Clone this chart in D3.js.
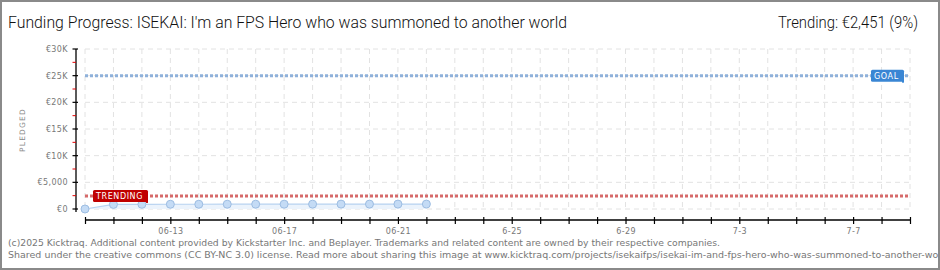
<!DOCTYPE html>
<html>
<head>
<meta charset="utf-8">
<script src="https://cdn.jsdelivr.net/npm/d3@7"></script>
<style>
  body { margin: 0; background: #fff; }
  svg { display: block; }
</style>
</head>
<body>
<svg id="chart" width="940" height="270"></svg>
<script>
// data
const dayStrings = ["2025-06-10","2025-06-11","2025-06-12","2025-06-13","2025-06-14","2025-06-15","2025-06-16",
  "2025-06-17","2025-06-18","2025-06-19","2025-06-20","2025-06-21","2025-06-22"];
const pledged = [0, 860, 880, 890, 895, 900, 905, 905, 910, 915, 915, 920, 925];
const goal = 25000;
const trending = 2451;
const yTicks = [0, 5000, 10000, 15000, 20000, 25000, 30000];
const yTickLabels = ["€0", "€5,000", "€10K", "€15K", "€20K", "€25K", "€30K"];
const xLabelDays = ["2025-06-13", "2025-06-17", "2025-06-21", "2025-06-25", "2025-06-29", "2025-07-03", "2025-07-07"];
const xLabels = ["06-13", "06-17", "06-21", "6-25", "6-29", "7-3", "7-7"];

const parse = d3.timeParse("%Y-%m-%d");
const days = dayStrings.map(parse);
const start = parse("2025-06-10"), end = parse("2025-07-09");

const svg = d3.select("#chart");
const W = 940, H = 270;

// frame
svg.append("rect").attr("x", 1).attr("y", 1).attr("width", W - 2).attr("height", H - 2)
  .attr("fill", "#fff").attr("stroke", "#8a8a8a").attr("stroke-width", 2);

const x = d3.scaleTime().domain([start, end]).range([85, 910]);
const y = d3.scaleLinear().domain([0, 30000]).range([209, 49]);
const allDays = d3.timeDay.range(start, d3.timeDay.offset(end, 1));

// grid
const grid = svg.append("g").attr("stroke", "#e2e2e2").attr("stroke-dasharray", "5,4");
grid.selectAll("line.v").data(allDays).enter().append("line")
  .attr("x1", d => x(d)).attr("x2", d => x(d)).attr("y1", y(30000)).attr("y2", y(0));
grid.selectAll("line.h").data(yTicks).enter().append("line")
  .attr("x1", x(start)).attr("x2", x(end)).attr("y1", d => y(d)).attr("y2", d => y(d));

// goal and trending lines
svg.append("line").attr("x1", x(start)).attr("x2", x(end)).attr("y1", y(goal)).attr("y2", y(goal))
  .attr("stroke", "#8fb1da").attr("stroke-width", 3).attr("stroke-dasharray", "3,2");
svg.append("line").attr("x1", x(start)).attr("x2", x(end)).attr("y1", y(trending)).attr("y2", y(trending))
  .attr("stroke", "#d66a6a").attr("stroke-width", 3).attr("stroke-dasharray", "3,2");

// pledged area, line, points
const area = d3.area().x((d, i) => x(days[i])).y0(y(0)).y1(d => y(d));
const line = d3.line().x((d, i) => x(days[i])).y(d => y(d));
svg.append("path").datum(pledged).attr("d", area).attr("fill", "#ebf3fc");
svg.append("path").datum(pledged).attr("d", line).attr("fill", "none").attr("stroke", "#b7d2f0").attr("stroke-width", 1.2);
svg.selectAll("circle.pt").data(pledged).enter().append("circle")
  .attr("cx", (d, i) => x(days[i])).attr("cy", d => y(d)).attr("r", 4)
  .attr("fill", "#c4dbf5").attr("stroke", "#9dbde2").attr("stroke-width", 1);

// labels on the lines
function tag(px, py, w, text, fill) {
  const g = svg.append("g");
  g.append("rect").attr("x", px).attr("y", py - 6).attr("width", w).attr("height", 12).attr("rx", 1.5).attr("fill", fill);
  g.append("rect").attr("x", px + w - 2).attr("y", py + 5).attr("width", 2).attr("height", 2).attr("fill", fill);
  g.append("text").attr("x", px + 3).attr("y", py + 3.5).text(text)
    .attr("fill", "#fff").attr("font-family", "DejaVu Sans").attr("font-size", 8).attr("letter-spacing", 0.6);
}
tag(871, y(goal), 33, "GOAL", "#3a86d4");
tag(93, y(trending), 55, "TRENDING", "#c00000");

// y axis
const yAxis = svg.append("g");
yAxis.append("line").attr("x1", 76).attr("x2", 76).attr("y1", 49).attr("y2", 212).attr("stroke", "#000").attr("stroke-width", 1.3);
yAxis.selectAll("line.minor").data(d3.range(2500, 30000, 5000)).enter().append("line")
  .attr("x1", 72.5).attr("x2", 76).attr("y1", d => y(d)).attr("y2", d => y(d)).attr("stroke", "#e00000");
yAxis.selectAll("line.major").data(yTicks).enter().append("line")
  .attr("x1", 72.5).attr("x2", 78).attr("y1", d => y(d)).attr("y2", d => y(d)).attr("stroke", "#000").attr("stroke-width", 1.2);
yAxis.selectAll("text").data(yTicks).enter().append("text")
  .attr("x", 68).attr("y", d => y(d) + 3).attr("text-anchor", "end")
  .attr("fill", "#777").attr("font-family", "DejaVu Sans").attr("font-size", 8).attr("letter-spacing", 0.4)
  .text((d, i) => yTickLabels[i]);

svg.append("text").attr("transform", "translate(25,130) rotate(-90)").attr("text-anchor", "middle")
  .attr("fill", "#888").attr("font-family", "DejaVu Sans").attr("font-size", 7.5).attr("letter-spacing", 1.2)
  .text("PLEDGED");

// x axis
const labelMap = new Map(xLabelDays.map((d, i) => [+parse(d), xLabels[i]]));
const xAxis = svg.append("g").attr("transform", "translate(0,220)")
  .call(d3.axisBottom(x).tickValues(allDays).tickSize(3).tickPadding(5)
    .tickFormat(d => labelMap.get(+d) || ""));
xAxis.select(".domain").attr("stroke", "#000").attr("stroke-width", 1.3).attr("d", `M${x(start)},0H${x(end)}`);
xAxis.selectAll(".tick line").attr("y1", -3).attr("y2", 4).attr("stroke", "#000").attr("stroke-width", 1.2);
xAxis.selectAll(".tick text").attr("fill", "#777").attr("font-family", "DejaVu Sans").attr("font-size", 8).attr("letter-spacing", 0.4);

// titles
svg.append("text").attr("x", 8).attr("y", 28).attr("textLength", 559).attr("lengthAdjust", "spacingAndGlyphs")
  .attr("font-family", "Roboto, sans-serif").attr("font-weight", 300).attr("font-size", 16).attr("fill", "#111")
  .text("Funding Progress: ISEKAI: I'm an FPS Hero who was summoned to another world");
svg.append("text").attr("x", 778).attr("y", 28).attr("textLength", 140).attr("lengthAdjust", "spacingAndGlyphs")
  .attr("font-family", "Roboto, sans-serif").attr("font-weight", 300).attr("font-size", 16).attr("fill", "#111")
  .text("Trending: €2,451 (9%)");

// footer
const foot = svg.append("g").attr("font-family", "DejaVu Sans").attr("font-size", 8.5).attr("fill", "#777");
foot.append("text").attr("x", 8).attr("y", 246).attr("textLength", 712).attr("lengthAdjust", "spacingAndGlyphs")
  .text("(c)2025 Kicktraq. Additional content provided by Kickstarter Inc. and Beplayer. Trademarks and related content are owned by their respective companies.");
foot.append("text").attr("x", 8).attr("y", 258).attr("textLength", 946).attr("lengthAdjust", "spacingAndGlyphs")
  .text("Shared under the creative commons (CC BY-NC 3.0) license. Read more about sharing this image at www.kicktraq.com/projects/isekaifps/isekai-im-and-fps-hero-who-was-summoned-to-another-world/");
// redraw right border over the overflowing footer
svg.append("line").attr("x1", W - 1).attr("x2", W - 1).attr("y1", 0).attr("y2", H).attr("stroke", "#8a8a8a").attr("stroke-width", 2);
</script>
</body>
</html>
